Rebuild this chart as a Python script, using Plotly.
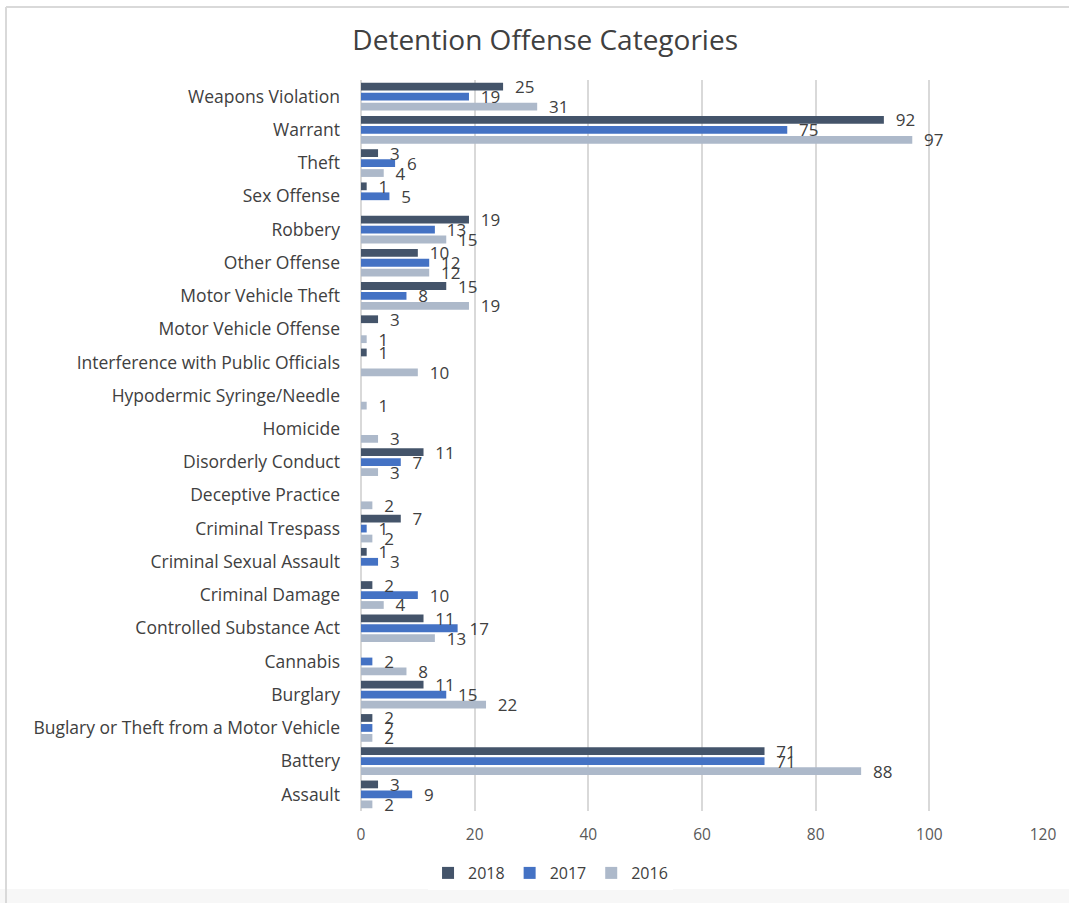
import plotly.graph_objects as go

# categories listed bottom -> top
categories = [
    "Assault", "Battery", "Buglary or Theft from a Motor Vehicle", "Burglary",
    "Cannabis", "Controlled Substance Act", "Criminal Damage",
    "Criminal Sexual Assault", "Criminal Trespass", "Deceptive Practice",
    "Disorderly Conduct", "Homicide", "Hypodermic Syringe/Needle",
    "Interference with Public Officials", "Motor Vehicle Offense",
    "Motor Vehicle Theft", "Other Offense", "Robbery", "Sex Offense",
    "Theft", "Warrant", "Weapons Violation",
]
v2018 = [3, 71, 2, 11, None, 11, 2, 1, 7, None, 11, None, None, 1, 3, 15, 10, 19, 1, 3, 92, 25]
v2017 = [9, 71, 2, 15, 2, 17, 10, 3, 1, None, 7, None, None, None, None, 8, 12, 13, 5, 6, 75, 19]
v2016 = [2, 88, 2, 22, 8, 13, 4, None, 2, 2, 3, 3, 1, 10, 1, 19, 12, 15, None, 4, 97, 31]
x_ticks = [0, 20, 40, 60, 80, 100, 120]

FONT = "Open Sans"
series = [("2016", v2016, "#ADB9CA"), ("2017", v2017, "#4472C4"), ("2018", v2018, "#44546A")]

fig = go.Figure()
for name, vals, color in series:
    fig.add_trace(go.Bar(
        y=categories, x=vals, name=name, orientation="h",
        marker=dict(color=color, line=dict(width=0)),
        text=[("\u00a0\u00a0" + str(v)) if v is not None else "" for v in vals],
        textposition="outside", cliponaxis=False,
        textfont=dict(family=FONT, size=17, color="#404040"),
    ))

L, R, T, B = 361, 26, 80, 92
W, H = 1069, 903
pw, ph = W - L - R, H - T - B
def px(x): return (x - L) / pw
def py(y): return (H - B - y) / ph

fig.update_layout(
    width=W, height=H,
    margin=dict(l=L, r=R, t=T, b=B),
    paper_bgcolor="white", plot_bgcolor="white",
    barmode="group", bargap=0.1, bargroupgap=0.22,
    uniformtext=dict(minsize=17, mode="show"),
    title=dict(text="Detention Offense Categories", x=0.51, xanchor="center",
               y=1 - 40 / H, yanchor="middle",
               font=dict(family=FONT, size=28, color="#404040")),
    font=dict(family=FONT, color="#595959"),
    xaxis=dict(range=[0, 120], tickvals=x_ticks, showgrid=True, gridcolor="#D9D9D9",
               gridwidth=1.5, zeroline=True, zerolinecolor="#D9D9D9", zerolinewidth=1.5,
               tickfont=dict(family=FONT, size=15.5, color="#595959"), ticks="",
               showline=False, ticklabelstandoff=12),
    yaxis=dict(categoryorder="array", categoryarray=categories,
               tickfont=dict(family=FONT, size=17.5, color="#404040"), ticks="",
               showgrid=False, showline=False, ticklabelstandoff=20),
    legend=dict(orientation="h", traceorder="reversed", xref="container", yref="container",
                x=0.515, xanchor="center", y=1 - 873 / H, yanchor="middle",
                font=dict(family=FONT, size=16, color="#404040"), itemwidth=30),
    showlegend=True,
    shapes=[
        dict(type="rect", xref="paper", yref="paper", x0=px(0), x1=px(W), y0=py(889), y1=py(H),
             fillcolor="#F7F7F7", line=dict(width=0), layer="below"),
        dict(type="line", xref="paper", yref="paper", x0=px(6), x1=px(6), y0=py(7), y1=py(H),
             line=dict(color="#D9D9D9", width=2)),
        dict(type="line", xref="paper", yref="paper", x0=px(6), x1=px(W), y0=py(7), y1=py(7),
             line=dict(color="#D9D9D9", width=2)),
    ],
)

fig.write_html("out.html")
